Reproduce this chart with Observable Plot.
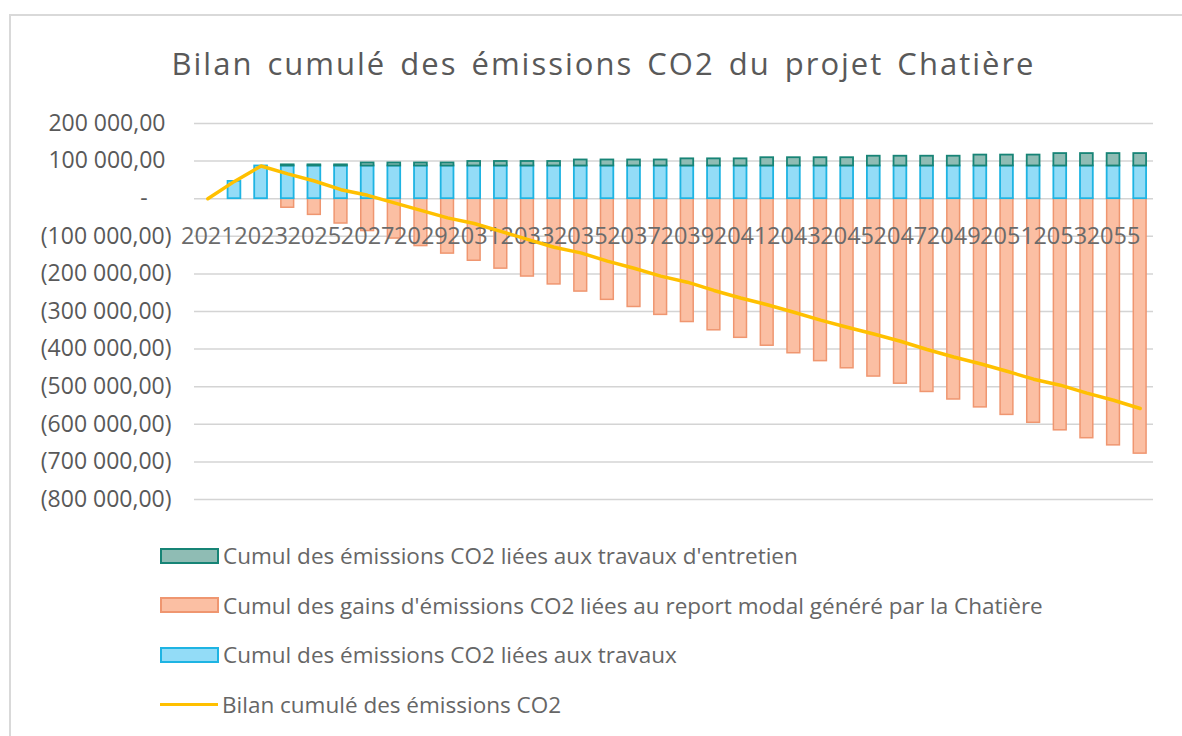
<!DOCTYPE html>
<html>
<head>
<meta charset="utf-8">
<script src="https://cdn.jsdelivr.net/npm/d3@7"></script>
<script src="https://cdn.jsdelivr.net/npm/@observablehq/plot@0.6"></script>
<style>
  html, body { margin: 0; padding: 0; background: #fff; }
  body { width: 1182px; height: 736px; overflow: hidden; position: relative; font-family: "Open Sans", sans-serif; }
  #frame { position: absolute; left: 9px; top: 14px; width: 1200px; height: 800px; border-left: 2px solid #d9d9d9; border-top: 2px solid #d9d9d9; pointer-events: none; }
  #title { height: 100px; box-sizing: border-box; padding-top: 43px; padding-left: 25px; text-align: center; font-size: 31px; line-height: 40px; color: #595959; letter-spacing: 2px; word-spacing: 4px; }
  #chart svg { display: block; }
  #legend { margin-top: 11px; padding-left: 160px; }
  .row { height: 49.5px; display: flex; align-items: center; font-size: 22.5px; color: #666; }
  .sw { width: 55px; height: 12px; margin-right: 4px; box-sizing: content-box; }
  .ln { width: 58px; height: 3px; background: #ffc000; margin-right: 4px; }
</style>
</head>
<body>
<div id="frame"></div>
<div id="title">Bilan cumulé des émissions CO2 du projet Chatière</div>
<div id="chart"></div>
<div id="legend"></div>
<script>
const years = [2021,2022,2023,2024,2025,2026,2027,2028,2029,2030,2031,2032,2033,2034,2035,2036,2037,2038,2039,2040,2041,2042,2043,2044,2045,2046,2047,2048,2049,2050,2051,2052,2053,2054,2055,2056];
// Cumul des émissions CO2 liées aux travaux
const travaux = [0,46000,87000,87000,87000,87000,87000,87000,87000,87000,87000,87000,87000,87000,87000,87000,87000,87000,87000,87000,87000,87000,87000,87000,87000,87000,87000,87000,87000,87000,87000,87000,87000,87000,87000,87000];
// Cumul des émissions CO2 liées aux travaux d'entretien
const entretien = [0,0,0,3000,3000,3000,8000,8000,8000,8000,12000,12000,12000,12000,16000,16000,16000,16000,19000,19000,19000,22000,22000,22000,22000,26000,26000,26000,26000,29000,29000,29000,33000,33000,33000,33000];
// Cumul des gains d'émissions CO2 liées au report modal
const gains = [0,0,0,-24000,-43000,-66000,-86000,-106000,-126000,-146000,-165000,-186000,-207000,-228000,-247000,-269000,-288000,-309000,-328000,-350000,-370000,-391000,-411000,-432000,-451000,-473000,-492000,-514000,-534000,-555000,-575000,-596000,-616000,-637000,-656000,-678000];
// Bilan cumulé des émissions CO2
const bilan = [0,46000,87000,66000,47000,24000,9000,-11000,-31000,-51000,-66000,-87000,-108000,-129000,-144000,-166000,-185000,-206000,-222000,-244000,-264000,-282000,-302000,-323000,-342000,-360000,-379000,-401000,-421000,-439000,-459000,-480000,-496000,-517000,-536000,-558000];
const xLabels = [2021,2023,2025,2027,2029,2031,2033,2035,2037,2039,2041,2043,2045,2047,2049,2051,2053,2055];
const yTicks = [200000,100000,0,-100000,-200000,-300000,-400000,-500000,-600000,-700000,-800000];
const seriesNames = [
  "Cumul des émissions CO2 liées aux travaux d'entretien",
  "Cumul des gains d'émissions CO2 liées au report modal généré par la Chatière",
  "Cumul des émissions CO2 liées aux travaux",
  "Bilan cumulé des émissions CO2"
];

const rows = years.map((year, i) => ({year, travaux: travaux[i], entretien: entretien[i], gains: gains[i], bilan: bilan[i]}));

function fmt(v) {
  const nb = "\u00a0";
  if (v === 0) return "-" + nb + nb + nb + nb;
  const s = String(Math.abs(v)).replace(/\B(?=(\d{3})+(?!\d))/g, " ") + ",00";
  return v < 0 ? "(" + s + ")" : s + nb;
}

const chart = Plot.plot({
  width: 1182,
  height: 420,
  marginTop: 23,
  marginBottom: 21,
  marginLeft: 194,
  marginRight: 29,
  style: {fontFamily: "Open Sans, sans-serif", color: "#595959", background: "transparent"},
  x: {type: "band", domain: years, paddingInner: 0.52, paddingOuter: 0.26, round: false, axis: null},
  y: {domain: [-800000, 200000], axis: null},
  marks: [
    Plot.ruleY(yTicks, {stroke: "#d4d4d4", strokeWidth: 1.5}),
    Plot.axisY({ticks: yTicks, tickFormat: fmt, tickSize: 0, tickPadding: 23, fontSize: 23, anchor: "left"}),
    Plot.barY(rows, {filter: d => d.gains < 0, x: "year", y1: () => 0, y2: "gains", fill: "#fbbfa3", stroke: "#ef9670", strokeWidth: 1.5}),
    Plot.barY(rows, {filter: d => d.travaux > 0, x: "year", y1: () => 0, y2: "travaux", fill: "#93dcf7", stroke: "#1eb4e3", strokeWidth: 1.8}),
    Plot.barY(rows, {filter: d => d.entretien > 0, x: "year", y1: "travaux", y2: d => d.travaux + d.entretien, fill: "#8fbcb4", stroke: "#178476", strokeWidth: 1.8}),
    Plot.text(xLabels, {x: d => d, y: () => 0, text: d => String(d), dy: 38, fontSize: 23.5, fill: "#6b6b6b"}),
    Plot.line(rows, {x: "year", y: "bilan", stroke: "#ffc000", strokeWidth: 3.5})
  ]
});
document.getElementById("chart").appendChild(chart);

const legendSpec = [
  {name: seriesNames[0], fill: "#8fbcb4", stroke: "#178476"},
  {name: seriesNames[1], fill: "#fbbfa3", stroke: "#ef9670"},
  {name: seriesNames[2], fill: "#93dcf7", stroke: "#1eb4e3"},
  {name: seriesNames[3], line: "#ffc000"}
];
const legend = document.getElementById("legend");
for (const s of legendSpec) {
  const row = document.createElement("div");
  row.className = "row";
  const sw = document.createElement("div");
  if (s.line) { sw.className = "ln"; }
  else { sw.className = "sw"; sw.style.background = s.fill; sw.style.border = "2px solid " + s.stroke; }
  const t = document.createElement("span");
  t.textContent = s.name;
  row.appendChild(sw); row.appendChild(t);
  legend.appendChild(row);
}
</script>
</body>
</html>
